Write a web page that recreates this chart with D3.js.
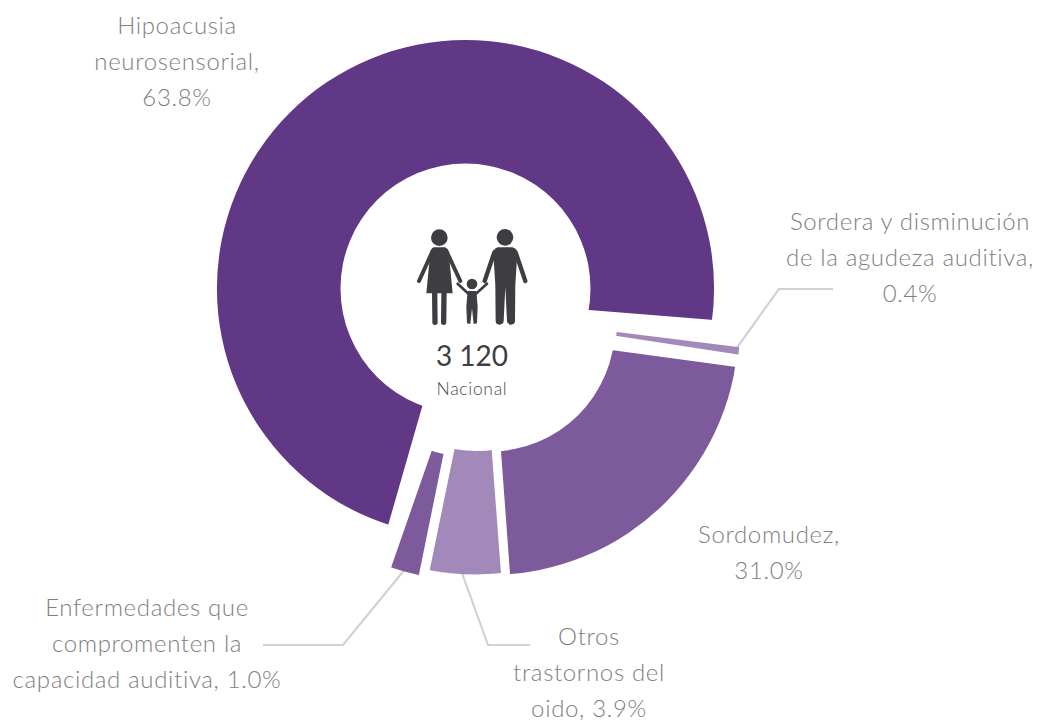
<!DOCTYPE html>
<html>
<head>
<meta charset="utf-8">
<script src="https://cdn.jsdelivr.net/npm/d3@7"></script>
<style>
  html, body { margin: 0; padding: 0; background: #fff; }
  svg { display: block; }
  text { font-family: "Lato", sans-serif; }
</style>
</head>
<body>
<div class="chart"></div>
<script>
// values
var categories = ["Hipoacusia neurosensorial", "Sordera y disminución de la agudeza auditiva", "Sordomudez", "Otros trastornos del oido", "Enfermedades que compromenten la capacidad auditiva"];
var shares = [63.8, 0.4, 31.0, 3.9, 1.0];
// the slices are not drawn to scale in the original, so angles are measured separately
var sliceStart = [196, 97.1, 97.7, 175.7, 191.5];
var sliceEnd = [454.6, 98.7, 175.8, 191.6, 199.2];
var labelLines = [
  ["Hipoacusia", "neurosensorial,", ""],
  ["Sordera y disminución", "de la agudeza auditiva,", ""],
  ["Sordomudez,", ""],
  ["Otros", "trastornos del", "oido, "],
  ["Enfermedades que", "compromenten la", "capacidad auditiva, "]
];
var totalLabel = "3 120";
var scopeLabel = "Nacional";

var width = 1043, height = 721;
var innerR = 125, outerR = 248.5;
var colors = ["#613886", "#a389b9", "#7d5a9b", "#a389b9", "#7d5a9b"];
var textColor = "#808080", darkColor = "#3e3e42", leaderColor = "#d2d2d2";

// ring centre and wedge apex of every slice, the slices are pulled apart by hand
var ringCentre = [[465.5, 288.5], [492.8, 316.5], [490, 326.5], [475.5, 326], [470.5, 332]];
var wedgeApex = [[453, 299], [476, 314.4], [492.4, 334], [481.7, 316.8], [461.6, 365]];
var labelAnchor = [[177, 34], [910, 230], [769, 543], [589, 645], [147, 616]];
var leaders = [
  null,
  [[736, 349], [779, 289], [833, 289]],
  null,
  [[462, 573], [488, 645], [530, 645]],
  [[406, 568], [343, 645], [263, 645]]
];

var svg = d3.select(".chart")
    .append("svg")
      .attr("width", width)
      .attr("height", height);

var angle = d3.scaleLinear().domain([0, 360]).range([0, 2 * Math.PI]);
var ring = d3.arc().innerRadius(innerR).outerRadius(outerR).startAngle(0).endAngle(2 * Math.PI);
var wedge = d3.arc().innerRadius(0).outerRadius(700);
var line = d3.line();

// leader lines go under the slices
svg.selectAll(".leader")
    .data(leaders.filter(function(d) { return d; }))
    .enter().append("path")
      .attr("class", "leader")
      .attr("d", function(d) { return line(d); })
      .style("fill", "none")
      .style("stroke", leaderColor)
      .style("stroke-width", 2.2);

var defs = svg.append("defs");

categories.forEach(function(c, i) {
  defs.append("clipPath")
      .attr("id", "wedge" + i)
    .append("path")
      .attr("transform", "translate(" + wedgeApex[i] + ")")
      .attr("d", wedge({ startAngle: angle(sliceStart[i]), endAngle: angle(sliceEnd[i]) }));

  svg.append("g")
      .attr("clip-path", "url(#wedge" + i + ")")
    .append("path")
      .attr("class", "slice")
      .attr("transform", "translate(" + ringCentre[i] + ")")
      .attr("d", ring())
      .style("fill", colors[i]);
});

// labels, the value goes at the end of the last line
var pct = d3.format(".1f");
var labels = svg.selectAll(".label")
    .data(labelLines)
    .enter().append("text")
      .attr("class", "label")
      .attr("transform", function(d, i) { return "translate(" + labelAnchor[i] + ")"; })
      .attr("text-anchor", "middle")
      .style("font-size", "24px")
      .style("font-weight", 300)
      .style("letter-spacing", "0.65px")
      .style("fill", textColor);

labels.each(function(lines, i) {
  d3.select(this).selectAll("tspan")
      .data(lines)
      .enter().append("tspan")
        .attr("x", 0)
        .attr("y", function(d, j) { return j * 36; })
        .text(function(d, j) { return j === lines.length - 1 ? d + pct(shares[i]) + "%" : d; });
});

// centre text
svg.append("text")
    .attr("x", 472).attr("y", 366)
    .attr("text-anchor", "middle")
    .style("font-size", "28px")
    .style("font-weight", 400)
    .style("fill", darkColor)
    .text(totalLabel);

svg.append("text")
    .attr("x", 472).attr("y", 395)
    .attr("text-anchor", "middle")
    .style("font-size", "17.5px")
    .style("font-weight", 300)
    .style("letter-spacing", "0.7px")
    .style("fill", "#4a4a4f")
    .text(scopeLabel);

// family icon, drawn in zoomed units
var icon = svg.append("g")
    .attr("transform", "translate(400,210) scale(0.3333)")
    .style("fill", darkColor)
    .style("stroke", darkColor)
    .style("stroke-linecap", "round")
    .style("stroke-linejoin", "round");

function limb(x1, y1, x2, y2, w) {
  icon.append("line")
      .attr("x1", x1).attr("y1", y1).attr("x2", x2).attr("y2", y2)
      .style("stroke-width", w);
}
function shape(d) {
  icon.append("path").attr("d", d).style("stroke", "none");
}

// woman
icon.append("circle").attr("cx", 118).attr("cy", 83).attr("r", 25).style("stroke", "none");
shape("M102,112 L134,112 Q143,114 146,126 L158,250 L79,250 L91,126 Q94,114 102,112 Z");
limb(97, 125, 57, 213, 12);
limb(140, 125, 181, 213, 12);
limb(104, 250, 105, 337, 16);
limb(132, 250, 131, 337, 16);

// child
icon.append("circle").attr("cx", 216).attr("cy", 222).attr("r", 16).style("stroke", "none");
shape("M203,243 L229,243 L233,290 L231,340 L221,342 L216,295 L211,342 L201,340 L199,290 Z");
limb(206, 252, 173, 221, 8);
limb(227, 252, 261, 221, 8);

// man
icon.append("circle").attr("cx", 315).attr("cy", 82).attr("r", 25).style("stroke", "none");
shape("M293,112 L337,112 Q350,114 352,130 L346,225 L345,334 Q344,344 333,344 Q322,344 321,334 L316,230 L311,334 Q310,344 298,344 Q288,344 287,334 L286,225 L280,130 Q282,114 293,112 Z");
limb(283, 127, 254, 213, 13);
limb(347, 127, 376, 213, 13);
</script>
</body>
</html>
